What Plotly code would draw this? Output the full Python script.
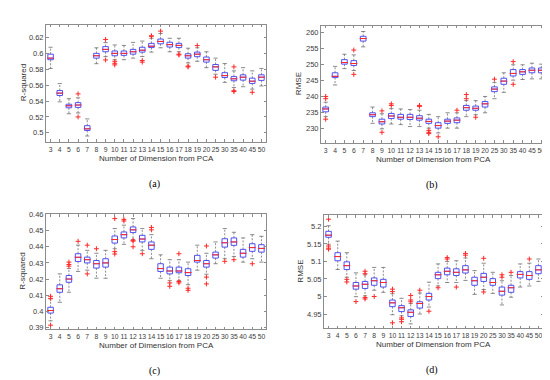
import plotly.graph_objects as go

categories = ["3", "4", "5", "6", "7", "8", "9", "10", "11", "12", "13", "14", "15",
              "16", "17", "18", "19", "20", "25", "30", "35", "40", "45", "50"]

# ---- panel (a): R-squared ----
a_med = [0.594, 0.550, 0.534, 0.535, 0.505, 0.597, 0.605, 0.600, 0.600, 0.602, 0.604, 0.609,
         0.615, 0.611, 0.610, 0.597, 0.599, 0.592, 0.583, 0.572, 0.568, 0.570, 0.565, 0.570]
a_q1 = [0.592, 0.547, 0.5315, 0.532, 0.503, 0.594, 0.602, 0.597, 0.5975, 0.599, 0.6016, 0.6073,
        0.612, 0.608, 0.6073, 0.594, 0.5958, 0.589, 0.5786, 0.5696, 0.5655, 0.5663, 0.5622, 0.566]
a_q3 = [0.599, 0.5532, 0.536, 0.538, 0.509, 0.600, 0.6085, 0.603, 0.603, 0.605, 0.6077, 0.6126,
        0.618, 0.614, 0.6126, 0.5995, 0.6016, 0.5954, 0.586, 0.5757, 0.5708, 0.573, 0.5688, 0.573]
a_lo = [0.581, 0.539, 0.524, 0.525, 0.496, 0.587, 0.596, 0.592, 0.592, 0.594, 0.596, 0.6016,
        0.607, 0.602, 0.602, 0.588, 0.590, 0.582, 0.5737, 0.5635, 0.557, 0.558, 0.555, 0.559]
a_hi = [0.6077, 0.562, 0.543, 0.544, 0.5175, 0.607, 0.6135, 0.6106, 0.610, 0.6138, 0.6155, 0.619,
        0.625, 0.619, 0.619, 0.6065, 0.607, 0.602, 0.594, 0.5872, 0.578, 0.582, 0.578, 0.581]
a_out = {"6": [0.549, 0.520], "9": [0.6175, 0.5917], "10": [0.590, 0.5875, 0.5855],
         "13": [0.591, 0.589], "14": [0.622, 0.6215], "15": [0.628], "17": [0.599, 0.598],
         "18": [0.584, 0.583], "19": [0.6098], "25": [0.570], "35": [0.583, 0.553, 0.552],
         "45": [0.551]}

# ---- panel (b): RMSE ----
b_med = [236.0, 246.2, 250.5, 250.2, 258.0, 234.2, 232.0, 233.8, 233.4, 233.4, 233.1, 232.1,
         230.8, 232.2, 232.5, 236.4, 236.2, 237.6, 242.2, 244.7, 247.1, 247.6, 248.1, 248.1]
b_q1 = [235.1, 245.8, 250.0, 249.6, 257.2, 233.6, 231.3, 233.0, 232.8, 232.7, 232.5, 231.5,
        230.0, 231.5, 231.7, 235.6, 235.6, 236.6, 241.4, 243.7, 246.3, 246.8, 247.3, 247.3]
b_q3 = [236.6, 247.3, 251.4, 251.1, 258.7, 234.8, 232.8, 234.6, 234.3, 234.3, 233.9, 232.8,
        231.7, 232.8, 233.2, 237.1, 236.9, 238.3, 242.9, 245.6, 248.3, 248.3, 248.8, 248.8]
b_lo = [233.6, 243.5, 248.6, 248.0, 255.4, 231.5, 229.8, 231.3, 231.1, 230.5, 230.5, 230.0,
        228.5, 230.0, 230.0, 233.6, 234.2, 234.8, 239.2, 241.2, 245.0, 245.2, 245.4, 245.4]
b_hi = [238.1, 249.3, 253.1, 252.9, 260.2, 236.6, 234.5, 236.1, 236.0, 235.8, 235.6, 234.3,
        233.6, 234.8, 234.8, 238.6, 238.6, 239.9, 244.3, 247.3, 249.8, 249.8, 250.3, 250.0]
b_out = {"3": [239.9, 239.2, 232.8], "6": [254.4, 246.8], "9": [235.4, 228.7],
         "10": [237.6, 237.1], "13": [237.1, 236.8], "14": [229.3, 228.7, 228.3],
         "15": [227.3], "17": [235.6], "18": [240.5, 239.2], "19": [233.4], "25": [245.3],
         "35": [250.8, 243.7]}

# ---- panel (c): R-squared ----
c_med = [0.4005, 0.414, 0.420, 0.4335, 0.432, 0.4295, 0.430, 0.4445, 0.4475, 0.4505, 0.4448, 0.441,
         0.4265, 0.425, 0.425, 0.424, 0.4315, 0.4295, 0.435, 0.4425, 0.443, 0.436, 0.4395, 0.439]
c_q1 = [0.3989, 0.4118, 0.418, 0.4309, 0.430, 0.4268, 0.4274, 0.4423, 0.4455, 0.4488, 0.443, 0.4384,
        0.4247, 0.4232, 0.4239, 0.4222, 0.4305, 0.4274, 0.433, 0.4398, 0.4409, 0.4336, 0.4372, 0.4367]
c_q3 = [0.4025, 0.4164, 0.4222, 0.4357, 0.4336, 0.4315, 0.4326, 0.4467, 0.4492, 0.4523, 0.4471, 0.443,
        0.4295, 0.4274, 0.4274, 0.4264, 0.4347, 0.4315, 0.4367, 0.445, 0.4455, 0.4384, 0.4419, 0.4413]
c_lo = [0.3941, 0.4056, 0.4118, 0.4247, 0.4255, 0.4205, 0.4205, 0.4388, 0.4415, 0.4445, 0.4378, 0.4326,
        0.4205, 0.419, 0.419, 0.4165, 0.4255, 0.423, 0.4295, 0.4326, 0.434, 0.4305, 0.4326, 0.4305]
c_hi = [0.4077, 0.4232, 0.4265, 0.441, 0.4378, 0.436, 0.4378, 0.4513, 0.4534, 0.4575, 0.4513, 0.4475,
        0.435, 0.432, 0.432, 0.4305, 0.441, 0.436, 0.443, 0.4513, 0.449, 0.4455, 0.4475, 0.4465]
c_out = {"3": [0.4093, 0.408, 0.3914], "5": [0.4305, 0.429, 0.428], "6": [0.4434],
         "7": [0.441, 0.4232], "8": [0.4388], "10": [0.4575, 0.437, 0.4355], "11": [0.457, 0.456],
         "12": [0.444, 0.4435, 0.440], "13": [0.4357], "14": [0.452, 0.4505],
         "16": [0.4176, 0.4155], "17": [0.4357, 0.4185, 0.4176], "18": [0.4143, 0.413],
         "20": [0.4405, 0.4212, 0.417], "30": [0.431], "35": [0.432], "45": [0.4295]}

# ---- panel (d): RMSE ----
d_med = [5.175, 5.114, 5.088, 5.030, 5.035, 5.045, 5.040, 4.982, 4.968, 4.955, 4.980, 5.000,
         5.062, 5.072, 5.069, 5.076, 5.045, 5.055, 5.040, 5.015, 5.025, 5.063, 5.060, 5.076]
d_q1 = [5.169, 5.102, 5.077, 5.021, 5.023, 5.032, 5.027, 4.971, 4.957, 4.943, 4.967, 4.990,
        5.051, 5.062, 5.060, 5.067, 5.032, 5.043, 5.032, 5.004, 5.012, 5.053, 5.049, 5.065]
d_q3 = [5.186, 5.125, 5.099, 5.040, 5.043, 5.053, 5.049, 4.990, 4.974, 4.962, 4.985, 5.009,
        5.069, 5.081, 5.079, 5.088, 5.055, 5.066, 5.051, 5.027, 5.032, 5.071, 5.071, 5.088]
d_lo = [5.149, 5.077, 5.055, 4.9995, 5.002, 5.018, 5.012, 4.948, 4.945, 4.922, 4.950, 4.970,
        5.030, 5.040, 5.040, 5.046, 5.006, 5.020, 5.009, 4.976, 4.998, 5.027, 5.030, 5.043]
d_hi = [5.202, 5.158, 5.125, 5.0675, 5.062, 5.083, 5.083, 5.008, 4.995, 4.980, 5.010, 5.041,
        5.093, 5.100, 5.102, 5.110, 5.074, 5.095, 5.069, 5.045, 5.060, 5.093, 5.095, 5.107]
d_out = {"3": [5.2205, 5.144, 5.138, 5.135], "5": [5.049, 5.0415], "6": [4.9855],
         "7": [5.072, 5.065, 4.997, 4.993], "8": [5.0], "10": [5.021, 5.014, 4.925],
         "11": [4.939, 4.935, 4.928], "12": [5.003, 4.99, 4.985], "13": [5.018], "14": [4.958],
         "15": [5.025], "16": [5.111, 5.107], "17": [5.027], "18": [5.123, 5.118],
         "20": [5.109, 5.013], "30": [5.062, 5.055], "35": [5.069], "45": [5.107]}

a_ticks = [0.5, 0.52, 0.54, 0.56, 0.58, 0.6, 0.62]
a_ticktext = ["0.5", "0.52", "0.54", "0.56", "0.58", "0.6", "0.62"]
b_ticks = [230, 235, 240, 245, 250, 255, 260]
b_ticktext = ["230", "235", "240", "245", "250", "255", "260"]
c_ticks = [0.39, 0.40, 0.41, 0.42, 0.43, 0.44, 0.45, 0.46]
c_ticktext = ["0.39", "0.4", "0.41", "0.42", "0.43", "0.44", "0.45", "0.46"]
d_ticks = [4.95, 5.0, 5.05, 5.1, 5.15, 5.2]
d_ticktext = ["4.95", "5", "5.05", "5.1", "5.15", "5.2"]

W, H = 550, 380
panels = [
    dict(lab="(a)", ytitle="R-squared", med=a_med, q1=a_q1, q3=a_q3, lo=a_lo, hi=a_hi, out=a_out,
         ticks=a_ticks, ticktext=a_ticktext, yr=[0.489, 0.636], px=(38, 258), py=(13, 132)),
    dict(lab="(b)", ytitle="RMSE", med=b_med, q1=b_q1, q3=b_q3, lo=b_lo, hi=b_hi, out=b_out,
         ticks=b_ticks, ticktext=b_ticktext, yr=[225.5, 262], px=(313, 538), py=(14, 133)),
    dict(lab="(c)", ytitle="R-squared", med=c_med, q1=c_q1, q3=c_q3, lo=c_lo, hi=c_hi, out=c_out,
         ticks=c_ticks, ticktext=c_ticktext, yr=[0.389, 0.4602], px=(38, 258), py=(206, 323)),
    dict(lab="(d)", ytitle="RMSE", med=d_med, q1=d_q1, q3=d_q3, lo=d_lo, hi=d_hi, out=d_out,
         ticks=d_ticks, ticktext=d_ticktext, yr=[4.91, 5.232], px=(316, 535), py=(207, 322)),
]

pos = list(range(1, len(categories) + 1))
BLUE = "rgb(80,80,255)"
RED = "rgb(255,40,40)"
FONT = "Liberation Sans, Arial, sans-serif"

fig = go.Figure()
annotations = []
layout = {}
for k, p in enumerate(panels):
    sfx = "" if k == 0 else str(k + 1)
    xa, ya = "x" + sfx, "y" + sfx
    # whiskers
    wx, wy = [], []
    for i, x in enumerate(pos):
        wx += [x, x, None, x, x, None]
        wy += [p["q3"][i], p["hi"][i], None, p["q1"][i], p["lo"][i], None]
    fig.add_trace(go.Scatter(x=wx, y=wy, mode="lines", xaxis=xa, yaxis=ya,
                             line=dict(color="rgb(90,90,90)", width=0.7, dash="2px,1.5px"),
                             hoverinfo="skip", showlegend=False))
    fig.add_trace(go.Scatter(x=pos + pos, y=p["hi"] + p["lo"], mode="markers", xaxis=xa, yaxis=ya,
                             marker=dict(symbol="line-ew", size=3,
                                         line=dict(color="rgb(90,90,90)", width=0.7)),
                             hoverinfo="skip", showlegend=False))
    # boxes
    fig.add_trace(go.Box(x=pos, q1=p["q1"], median=p["med"], q3=p["q3"],
                         lowerfence=p["q1"], upperfence=p["q3"], xaxis=xa, yaxis=ya,
                         width=0.6, whiskerwidth=0, boxpoints=False,
                         line=dict(color=BLUE, width=1), fillcolor="rgba(255,255,255,0)",
                         showlegend=False))
    # medians
    fig.add_trace(go.Scatter(x=pos, y=p["med"], mode="markers", xaxis=xa, yaxis=ya,
                             marker=dict(symbol="line-ew", size=5,
                                         line=dict(color=RED, width=1)),
                             hoverinfo="skip", showlegend=False))
    # outliers
    ox, oy = [], []
    for c, vals in p["out"].items():
        for v in vals:
            ox.append(categories.index(c) + 1)
            oy.append(v)
    fig.add_trace(go.Scatter(x=ox, y=oy, mode="markers", xaxis=xa, yaxis=ya,
                             marker=dict(symbol="cross-thin", size=3.5,
                                         line=dict(color=RED, width=1)),
                             hoverinfo="skip", showlegend=False))

    x0, x1 = p["px"]
    y0, y1 = p["py"]
    axcommon = dict(showline=True, linecolor="rgb(140,140,140)", linewidth=1, mirror="ticks",
                    ticks="inside", ticklen=2.5, tickcolor="rgb(140,140,140)",
                    showgrid=False, zeroline=False)
    layout["xaxis" + sfx] = dict(axcommon, domain=[x0 / W, x1 / W], range=[0.5, 24.5],
                                 tickvals=pos, ticktext=categories, anchor=ya, tickangle=0,
                                 ticklabelstandoff=1,
                                 tickfont=dict(family=FONT, size=6.8, color="rgb(60,60,60)"))
    layout["yaxis" + sfx] = dict(axcommon, domain=[1 - y1 / H, 1 - y0 / H], range=p["yr"],
                                 tickvals=p["ticks"], ticktext=p["ticktext"], anchor=xa,
                                 tickfont=dict(family=FONT, size=7.5, color="rgb(60,60,60)"))
    cx = (x0 + x1) / 2
    annotations.append(dict(text="Number of Dimension from PCA", x=cx / W, y=1 - (y1 + 17) / H,
                            xref="paper", yref="paper", showarrow=False, xanchor="center",
                            yanchor="middle",
                            font=dict(family=FONT, size=8, color="rgb(50,50,50)")))
    annotations.append(dict(text=p["ytitle"], x=(x0 - 23) / W, y=1 - (y0 + y1) / 2 / H,
                            xref="paper", yref="paper", showarrow=False, textangle=-90,
                            xanchor="center", yanchor="middle",
                            font=dict(family=FONT, size=8, color="rgb(50,50,50)")))
    annotations.append(dict(text=p["lab"], x=(cx - 2) / W, y=1 - (y1 + 43) / H,
                            xref="paper", yref="paper", showarrow=False, xanchor="center",
                            yanchor="middle",
                            font=dict(family="Liberation Serif, Times New Roman, serif",
                                      size=10, color="black")))

fig.update_layout(width=W, height=H, margin=dict(l=0, r=0, t=0, b=0),
                  paper_bgcolor="white", plot_bgcolor="white", showlegend=False,
                  annotations=annotations, **layout)
fig.write_html("out.html")
